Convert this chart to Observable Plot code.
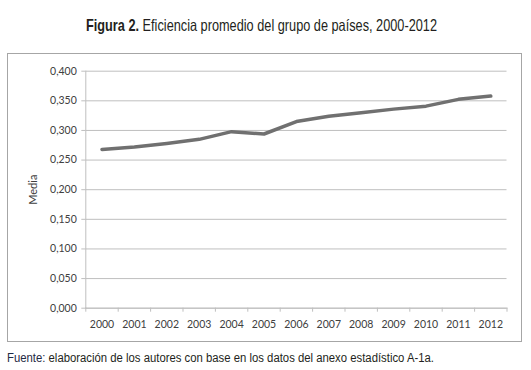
<!DOCTYPE html>
<html>
<head>
<meta charset="utf-8">
<script src="https://cdn.jsdelivr.net/npm/d3@7"></script>
<script src="https://cdn.jsdelivr.net/npm/@observablehq/plot@0.6"></script>
<style>
  html, body { margin: 0; padding: 0; background: #fff; }
  #page { position: relative; width: 531px; height: 370px; overflow: hidden; }
  #title { position: absolute; left: 86px; top: 16px; display: inline-block; transform-origin: 0 0;
    font-family: "Liberation Sans", Arial, sans-serif; font-size: 16.5px; color: #231f20; white-space: nowrap; }
  #title b { font-weight: bold; }
  #frame { position: absolute; left: 7px; top: 53px; width: 513px; height: 287px; border: 1px solid #a6a6a6; }
  #frame svg { display: block; }
  #caption { position: absolute; left: 7px; top: 351px; display: inline-block; transform-origin: 0 0;
    font-family: "Liberation Sans", Arial, sans-serif; font-size: 12.5px; color: #231f20; white-space: nowrap; }
  #caption b { color: #1f2a44; font-weight: normal; }
</style>
</head>
<body>
<div id="page">
  <div id="title"><b>Figura 2.</b> Eficiencia promedio del grupo de países, 2000-2012</div>
  <div id="frame"></div>
  <div id="caption"><b>Fuente:</b> elaboración de los autores con base en los datos del anexo estadístico A-1a.</div>
</div>
<script>
const years = [2000, 2001, 2002, 2003, 2004, 2005, 2006, 2007, 2008, 2009, 2010, 2011, 2012];
const media = [0.268, 0.272, 0.278, 0.285, 0.298, 0.294, 0.315, 0.324, 0.330, 0.336, 0.341, 0.3525, 0.358];
const yTicks = [0, 0.05, 0.1, 0.15, 0.2, 0.25, 0.3, 0.35, 0.4];
const yLabel = "Media";

const data = years.map((year, i) => ({year, media: media[i]}));
const boundaries = [years[0] - 0.5, ...years.map(y => y + 0.5)];
const fmt = d => d3.format(".3f")(d).replace(".", ",");
const gridColor = "#bfbfbf";
const textColor = "#404040";

const chart = Plot.plot({
  width: 513,
  height: 287,
  marginLeft: 77.3,
  marginRight: 14.5,
  marginTop: 16.7,
  marginBottom: 33.3,
  style: { fontFamily: "Lato, 'Open Sans', sans-serif", fontSize: "10.5px", background: "#fff" },
  x: { type: "linear", domain: [years[0] - 0.5, years[years.length - 1] + 0.5] },
  y: { domain: [0, 0.4] },
  marks: [
    Plot.gridY(yTicks, { stroke: gridColor, strokeOpacity: 1 }),
    Plot.frame({ anchor: "left", stroke: gridColor }),
    Plot.frame({ anchor: "bottom", stroke: gridColor }),
    Plot.axisY(yTicks, { tickSize: 4, tickFormat: () => "", color: gridColor, label: null }),
    Plot.axisY(yTicks, { tickSize: 0, tickPadding: 9, tickFormat: fmt, color: textColor, label: null }),
    Plot.axisX(boundaries, { tickSize: 4, tickFormat: () => "", color: gridColor, label: null }),
    Plot.axisX(years, { tickSize: 0, tickPadding: 12, tickFormat: d => String(d), color: textColor, label: null }),
    Plot.text([yLabel], { frameAnchor: "left", textAnchor: "middle", rotate: -90, dx: -52, dy: 0, fill: textColor, fontSize: 11 }),
    Plot.line(data, { x: "year", y: "media", stroke: "#707070", strokeWidth: 3.5 })
  ]
});
document.getElementById("frame").appendChild(chart);

function fitWidth(id, target) {
  const el = document.getElementById(id);
  const w = el.getBoundingClientRect().width;
  el.style.transform = `scaleX(${target / w})`;
}
fitWidth("title", 351);
fitWidth("caption", 427);
</script>
</body>
</html>
